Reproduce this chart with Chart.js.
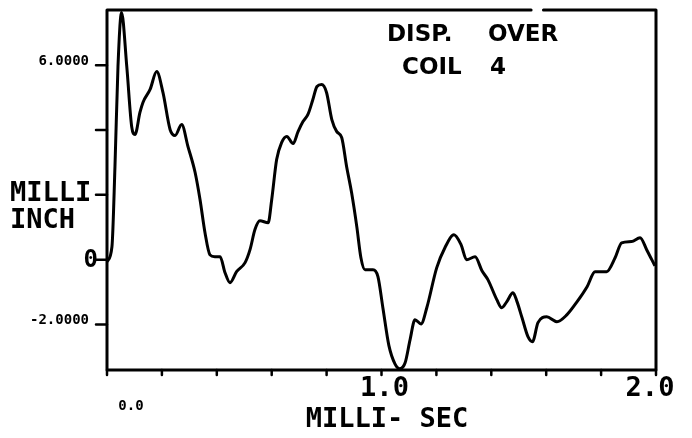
<!DOCTYPE html>
<html>
<head>
<meta charset="utf-8">
<script src="https://cdn.jsdelivr.net/npm/chart.js@4.4.1/dist/chart.umd.min.js"></script>
<style>
  html, body { margin: 0; padding: 0; background: #fff; }
  #wrap { width: 692px; height: 438px; }
</style>
</head>
<body>
<div id="wrap"><canvas id="disp" width="692" height="438"></canvas></div>
<script>
// displacement over coil 4
var timeMs = [0.000, 0.018, 0.029, 0.040, 0.053, 0.072, 0.090, 0.102, 0.120, 0.131,
  0.157, 0.181, 0.204, 0.230, 0.248, 0.272, 0.295, 0.321, 0.339, 0.357,
  0.375, 0.393, 0.412, 0.430, 0.448, 0.472, 0.503, 0.521, 0.539, 0.557,
  0.587, 0.600, 0.618, 0.636, 0.655, 0.678, 0.696, 0.714, 0.732, 0.750,
  0.765, 0.782, 0.800, 0.819, 0.837, 0.855, 0.873, 0.891, 0.910, 0.925,
  0.940, 0.969, 0.987, 1.005, 1.027, 1.049, 1.067, 1.086, 1.104, 1.122,
  1.144, 1.165, 1.201, 1.231, 1.264, 1.290, 1.310, 1.341, 1.366, 1.388,
  1.420, 1.438, 1.456, 1.479, 1.494, 1.512, 1.534, 1.550, 1.570, 1.602,
  1.639, 1.675, 1.712, 1.749, 1.778, 1.820, 1.851, 1.875, 1.911, 1.942,
  1.966, 1.996];
var dispMilliInch = [-0.06, 0.40, 2.87, 5.96, 7.62, 5.96, 4.10, 3.86, 4.54, 4.85,
  5.25, 5.80, 5.15, 4.01, 3.83, 4.17, 3.49, 2.69, 1.85, 0.83,
  0.15, 0.09, 0.09, -0.40, -0.71, -0.37, -0.09, 0.31, 0.93, 1.20,
  1.14, 1.85, 3.09, 3.61, 3.80, 3.58, 3.95, 4.26, 4.48, 4.94,
  5.34, 5.40, 5.15, 4.32, 3.95, 3.77, 2.87, 2.07, 1.02, 0.06,
  -0.31, -0.31, -0.52, -1.48, -2.65, -3.21, -3.36, -3.18, -2.47, -1.85,
  -1.98, -1.48, -0.25, 0.37, 0.77, 0.46, 0.00, 0.09, -0.34, -0.62,
  -1.23, -1.48, -1.30, -1.02, -1.30, -1.79, -2.38, -2.53, -1.94, -1.76,
  -1.91, -1.70, -1.30, -0.83, -0.37, -0.37, 0.06, 0.52, 0.56, 0.68,
  0.31, -0.19];

var yTickValues = [6, 4, 2, 0, -2];
var yTickLabels = ["6.0000", "", "", "0", "-2.0000"];
var xTickValues = [0, 0.2, 0.4, 0.6, 0.8, 1.0, 1.2, 1.4, 1.6, 1.8, 2.0];
var xTickLabels = ["0.0", "", "", "", "", "1.0", "", "", "", "", "2.0"];
var titleWords = [["DISP.", "OVER"], ["COIL", "4"]];
var yAxisTitle = ["MILLI", "INCH"];
var xAxisTitle = "MILLI- SEC";

var points = timeMs.map(function (t, i) { return { x: t, y: dispMilliInch[i] }; });

var MONO = "'DejaVu Sans Mono', monospace";
var SANS = "'DejaVu Sans', sans-serif";

var plotterFrame = {
  id: "plotterFrame",
  afterDatasetsDraw: function (chart) {
    var c = chart.ctx, a = chart.chartArea;
    var xs = chart.scales.x, ys = chart.scales.y;
    c.save();
    c.strokeStyle = "#000";
    c.fillStyle = "#000";
    c.lineCap = "round";
    c.lineJoin = "round";

    // frame, the top edge has a small gap in the original
    c.lineWidth = 3;
    c.beginPath();
    c.moveTo(xs.getPixelForValue(1.545), a.top);
    c.lineTo(a.left, a.top);
    c.lineTo(a.left, a.bottom);
    c.lineTo(a.right, a.bottom);
    c.lineTo(a.right, a.top);
    c.lineTo(xs.getPixelForValue(1.59), a.top);
    c.stroke();

    // tick marks
    c.lineWidth = 2.5;
    c.beginPath();
    yTickValues.forEach(function (v) {
      var y = ys.getPixelForValue(v);
      c.moveTo(a.left - 11, y);
      c.lineTo(a.left, y);
    });
    xTickValues.forEach(function (v) {
      var x = xs.getPixelForValue(v);
      c.moveTo(x, a.bottom);
      c.lineTo(x, a.bottom + 5);
    });
    c.stroke();

    // y tick labels
    c.textBaseline = "middle";
    c.textAlign = "right";
    yTickValues.forEach(function (v, i) {
      var lab = yTickLabels[i];
      if (!lab) return;
      var y = ys.getPixelForValue(v);
      if (lab === "0") {
        c.font = "bold 24px " + MONO;
        c.fillText(lab, a.left - 9, y + 1);
      } else {
        c.font = "bold 14px " + MONO;
        c.fillText(lab, a.left - 18, y - 4);
      }
    });

    // x tick labels
    c.textAlign = "center";
    xTickValues.forEach(function (v, i) {
      var lab = xTickLabels[i];
      if (!lab) return;
      var x = xs.getPixelForValue(v);
      if (v === 0) {
        c.font = "bold 14px " + MONO;
        c.fillText(lab, x + 24, a.bottom + 36);
      } else {
        c.font = "bold 27px " + MONO;
        c.fillText(lab, v === 2 ? x - 6 : x + 3, a.bottom + 19);
      }
    });

    // axis titles
    c.font = "bold 27px " + MONO;
    c.fillText(xAxisTitle, 387, a.bottom + 50);
    c.textAlign = "left";
    c.fillText(yAxisTitle[0], 10, 194);
    c.fillText(yAxisTitle[1], 10, 221);

    // chart title inside the box
    c.font = "bold 23px " + SANS;
    c.fillText(titleWords[0][0], 387, 35);
    c.fillText(titleWords[0][1], 488, 35);
    c.fillText(titleWords[1][0], 402, 68);
    c.fillText(titleWords[1][1], 490, 68);
    c.restore();
  }
};

new Chart(document.getElementById("disp").getContext("2d"), {
  type: "line",
  data: {
    datasets: [{
      label: "DISP. OVER COIL 4",
      data: points,
      borderColor: "#000",
      borderWidth: 3,
      pointRadius: 0,
      cubicInterpolationMode: "monotone",
      fill: false
    }]
  },
  options: {
    responsive: false,
    animation: false,
    layout: { padding: { left: 107, right: 36, top: 10, bottom: 68 } },
    plugins: { legend: { display: false }, tooltip: { enabled: false } },
    scales: {
      x: { type: "linear", min: 0, max: 2, display: false },
      y: { type: "linear", min: -3.4, max: 7.7, display: false }
    }
  },
  plugins: [plotterFrame]
});
</script>
</body>
</html>
